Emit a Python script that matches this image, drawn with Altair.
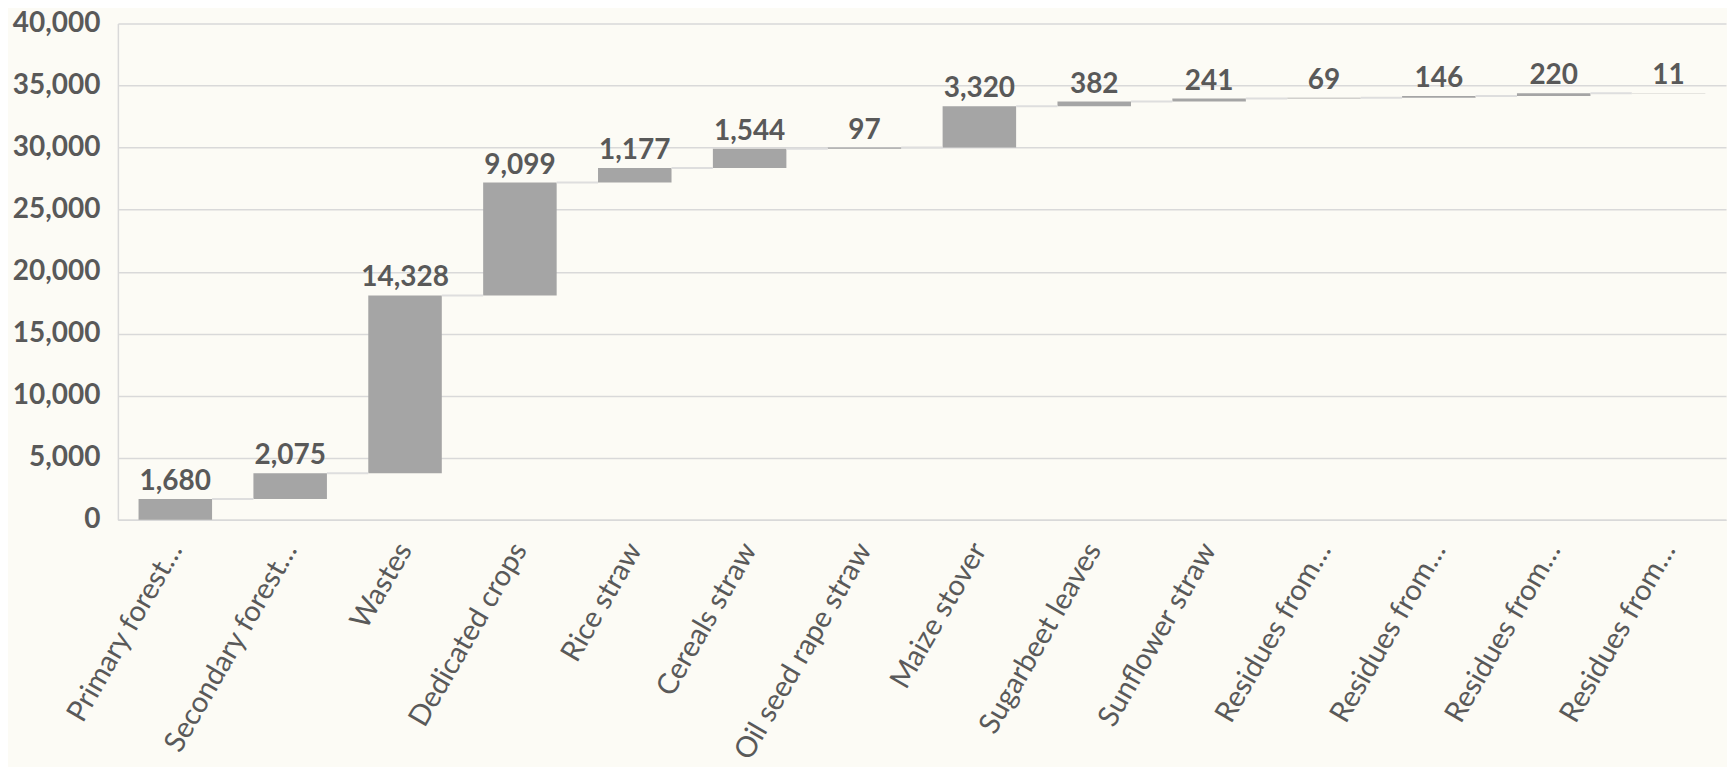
import altair as alt
import pandas as pd

labels = ["Primary forest…", "Secondary forest…", "Wastes", "Dedicated crops",
          "Rice straw", "Cereals straw", "Oil seed rape straw", "Maize stover",
          "Sugarbeet leaves", "Sunflower straw", "Residues from…", "Residues from…",
          "Residues from…", "Residues from…"]
values = [1680, 2075, 14328, 9099, 1177, 1544, 97, 3320, 382, 241, 69, 146, 220, 11]
y_ticks = [0, 5000, 10000, 15000, 20000, 25000, 30000, 35000, 40000]

rows = []
cum = 0
for i, (lab, v) in enumerate(zip(labels, values)):
    start = cum
    cum += v
    rows.append({"idx": i, "label": lab, "value": v, "start": start, "end": cum,
                 "nxt": i + 1 if i + 1 < len(labels) else -1,
                 "txt": f"{v:,}"})
df = pd.DataFrame(rows)
conn = df[df["nxt"] >= 0].copy()

label_expr = "[" + ",".join("'" + l + "'" for l in labels) + "][datum.value]"

FONT = "Lato"
TXT = "#595959"

x = alt.X("idx:O", title=None,
          scale=alt.Scale(paddingInner=0.36, paddingOuter=0.18),
          axis=alt.Axis(labelExpr=label_expr, labelAngle=-60, labelFontSize=29,
                        labelFont=FONT, labelColor=TXT, labelPadding=25,
                        ticks=False, domainColor="#d9d9d9", domainWidth=1.5,
                        labelLimit=400))
y = alt.Y("start:Q", title=None,
          scale=alt.Scale(domain=[0, 40000]),
          axis=alt.Axis(values=y_ticks, labelExpr="format(datum.value, ',')",
                        labelFontSize=28, labelFont=FONT, labelFontWeight="bold",
                        labelColor=TXT, labelPadding=18, ticks=False,
                        gridColor="#d9d9d9", gridWidth=1.5,
                        domainColor="#d9d9d9", domainWidth=1.5))

bars = alt.Chart(df).mark_bar(color="#a5a5a5").encode(x=x, y=y, y2="end:Q")

connectors = alt.Chart(conn).mark_rule(color="#dedede", strokeWidth=2).encode(
    x=alt.X("idx:O", bandPosition=1),
    x2=alt.X2("nxt:O", bandPosition=0),
    y="end:Q")

text = alt.Chart(df).mark_text(font=FONT, fontSize=28, fontWeight="bold",
                               color=TXT, baseline="alphabetic", dy=-9).encode(
    x=alt.X("idx:O", bandPosition=0.5), y="end:Q", text="txt:N")

chart = alt.layer(bars, connectors, text).properties(
    width=1610, height=497,
    background="#fcfbf5",
    padding={"left": 110, "top": 15, "right": 1, "bottom": 247},
    autosize=alt.AutoSizeParams(type="none"),
).configure_view(stroke=None)

chart.save("out.html", embed_options={"renderer": "svg", "actions": False})
